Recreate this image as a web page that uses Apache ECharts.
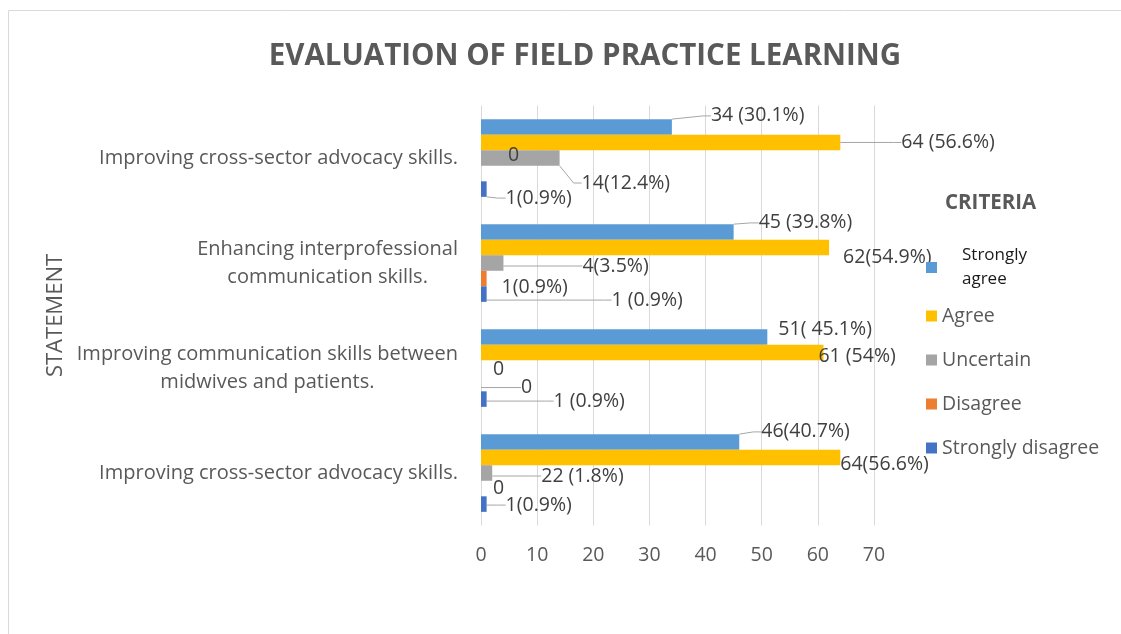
<!DOCTYPE html>
<html>
<head>
<meta charset="utf-8">
<script src="https://cdn.jsdelivr.net/npm/echarts@6/dist/echarts.min.js"></script>
<style>
  html, body { margin: 0; padding: 0; background: #fff; }
  #chart { width: 1121px; height: 634px; }
</style>
</head>
<body>
<div id="chart"></div>
<script>
// ---- data (categories listed top to bottom) ----
const categories = [
  'Improving cross-sector advocacy skills.',
  'Enhancing interprofessional\ncommunication skills.',
  'Improving communication skills between\nmidwives and patients.',
  'Improving cross-sector advocacy skills.'
];
const seriesNames = ['Strongly agree', 'Agree', 'Uncertain', 'Disagree', 'Strongly disagree'];
const stronglyAgree    = [34, 45, 51, 46];
const agree            = [64, 62, 61, 64];
const uncertain        = [14, 4, 0, 2];
const disagree         = [0, 1, 0, 0];
const stronglyDisagree = [1, 1, 1, 1];
const stronglyAgreeLabels    = ['34 (30.1%)', '45 (39.8%)', '51( 45.1%)', '46(40.7%)'];
const agreeLabels            = ['64 (56.6%)', '62(54.9%)', '61 (54%)', '64(56.6%)'];
const uncertainLabels        = ['14(12.4%)', '4(3.5%)', '0', '22 (1.8%)'];
const disagreeLabels         = ['0', '1(0.9%)', '0', '0'];
const stronglyDisagreeLabels = ['1(0.9%)', '1 (0.9%)', '1 (0.9%)', '1(0.9%)'];
const xTicks = [0, 10, 20, 30, 40, 50, 60, 70];

// ---- styling / label placement (not data) ----
const colors = ['#5B9BD5', '#FFC000', '#A5A5A5', '#ED7D31', '#4472C4'];
const FONT = '"Open Sans", Lato, sans-serif';
const TXT = '#595959';
// label offsets [dx, dy] from default "right" label position
const labelShift = [
  [[34, -11], [20, -9], [6, -7], [17, -10]],
  [[56, 0], [9, 10], [-10, 4], [-5, 7]],
  [[17, 25], [74, 3], [7, 1], [44, 3]],
  [[22, -18], [10, 9], [35, 4], [7, 0]],
  [[14, 9], [120, 6], [62, 2], [14, 1]]
];
const leader = [
  [1, 1, 0, 1],
  [1, 0, 0, 0],
  [1, 1, 0, 1],
  [0, 0, 1, 0],
  [1, 1, 1, 1]
];

const values = [stronglyAgree, agree, uncertain, disagree, stronglyDisagree];
const labels = [stronglyAgreeLabels, agreeLabels, uncertainLabels, disagreeLabels, stronglyDisagreeLabels];

const chart = echarts.init(document.getElementById('chart'), null, { renderer: 'canvas' });

const series = seriesNames.map((name, s) => ({
  name: name,
  type: 'bar',
  barGap: '0%',
  barCategoryGap: '26%',
  itemStyle: { color: colors[s] },
  data: values[s].map((v, i) => ({ value: v, labelLine: { show: !!leader[s][i] } })),
  label: {
    show: true,
    position: 'right',
    distance: 5,
    color: '#404040',
    fontSize: 19.5,
    fontFamily: FONT,
    formatter: (p) => labels[s][p.dataIndex]
  },
  labelLine: { show: false, length2: 8, lineStyle: { color: '#a6a6a6', width: 1 } },
  labelLayout: function (p) {
    const o = labelShift[p.seriesIndex][p.dataIndex];
    return {
      x: p.rect.x + p.rect.width + 5 + o[0],
      y: p.rect.y + p.rect.height / 2 + o[1],
      align: 'left',
      verticalAlign: 'middle'
    };
  },
  emphasis: { disabled: true },
  animation: false
}));

chart.setOption({
  animation: false,
  color: colors,
  textStyle: { fontFamily: FONT },
  title: [
    {
      text: 'EVALUATION OF FIELD PRACTICE LEARNING',
      left: 585, top: 42, textAlign: 'center', padding: 0,
      textStyle: { fontFamily: FONT, fontWeight: 'bold', fontSize: 29.5, color: TXT }
    },
    {
      text: 'CRITERIA',
      left: 945, top: 193, padding: 0,
      textStyle: { fontFamily: FONT, fontWeight: 'bold', fontSize: 20.5, color: TXT }
    }
  ],
  graphic: [{
    type: 'rect', silent: true, z: -10,
    shape: { x: 8.5, y: 10.5, width: 1200, height: 700 },
    style: { fill: 'none', stroke: '#d9d9d9', lineWidth: 1 }
  }],
  legend: [
    {
      data: ['Strongly agree'],
      orient: 'vertical', left: 926, top: 247, padding: 0,
      icon: 'rect', itemWidth: 11, itemHeight: 11,
      formatter: () => '{s|Strongly}\n{s|agree}',
      textStyle: {
        rich: { s: { fontFamily: FONT, fontSize: 17, color: '#1a1a1a', lineHeight: 24, padding: [0, 0, 0, 20] } }
      }
    },
    {
      data: ['Agree', 'Uncertain', 'Disagree', 'Strongly disagree'],
      orient: 'vertical', left: 926, top: 306, padding: 0, itemGap: 24,
      icon: 'rect', itemWidth: 11, itemHeight: 11,
      textStyle: { fontFamily: FONT, fontSize: 19.5, color: TXT, lineHeight: 20 }
    }
  ],
  grid: { left: 481, right: 247, top: 105.5, bottom: 108.5, containLabel: false },
  xAxis: {
    type: 'value', min: 0, max: 70, interval: 10,
    axisLine: { show: false }, axisTick: { show: false },
    splitLine: { show: true, lineStyle: { color: '#d9d9d9', width: 1 } },
    axisLabel: {
      margin: 20, color: TXT, fontSize: 19.5, fontFamily: FONT,
      formatter: (v) => (xTicks.indexOf(v) >= 0 ? String(v) : '')
    }
  },
  yAxis: {
    type: 'category', inverse: true, data: categories,
    name: 'STATEMENT', nameLocation: 'middle', nameGap: 414,
    nameTextStyle: { fontFamily: FONT, fontSize: 22, color: TXT },
    axisLine: { show: false }, axisTick: { show: false },
    splitLine: { show: false },
    axisLabel: {
      margin: 23, align: 'right',
      formatter: (v) => v.split('\n').map((l) => '{c|' + l + '}').join('\n'),
      rich: { c: { align: 'center', fontFamily: FONT, fontSize: 20, color: TXT, lineHeight: 28 } }
    }
  },
  series: series
});
</script>
</body>
</html>
